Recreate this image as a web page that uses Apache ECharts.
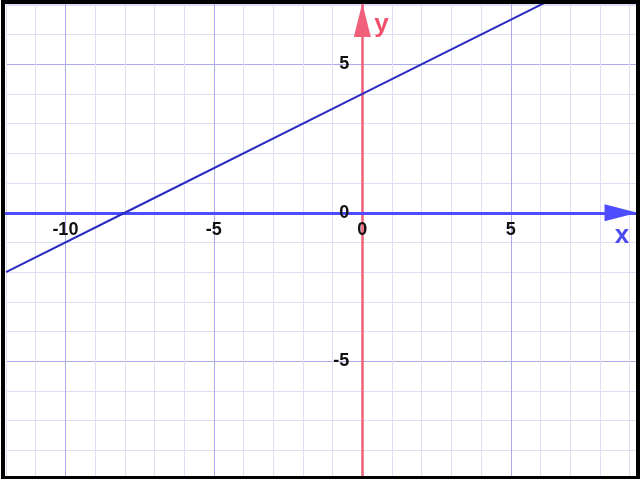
<!DOCTYPE html>
<html>
<head>
<meta charset="utf-8">
<script src="https://cdn.jsdelivr.net/npm/echarts@6/dist/echarts.min.js"></script>
<style>
  html, body { margin: 0; padding: 0; background: #fff; }
  #main { width: 640px; height: 479px; }
</style>
</head>
<body>
<div id="main"></div>
<script>
  // axis ranges
  var xMin = -12, xMax = 9.25;
  var yMin = -9, yMax = 7.03;
  // labelled ticks
  var xLabels = [-10, -5, 0, 5];
  var yLabels = [-5, 0, 5];
  // points of the line y = x/2 + 4
  var lineX = [-12, -8, 0, 6.5];
  var lineY = [-2, 0, 4, 7.25];

  var minor = '#dedef4';
  var major = '#acacea';

  var W = 640, H = 479;
  var gl = 6, gr = 3, gt = 4, gb = -1;
  // the axes sit on the zero lines: shift them in from the grid edge
  var xUnit = (W - gl - gr) / (xMax - xMin);
  var yUnit = (H - gt - gb) / (yMax - yMin);
  var xAxisOffset = -(0 - yMin) * yUnit;
  var yAxisOffset = -(0 - xMin) * xUnit;

  var chart = echarts.init(document.getElementById('main'));

  var labelStyle = {
    color: '#111',
    fontSize: 18,
    fontWeight: 'bold',
    fontFamily: 'Liberation Sans'
  };

  var option = {
    backgroundColor: '#fff',
    animation: false,
    grid: { left: gl, right: gr, top: gt, bottom: gb, containLabel: false, outerBoundsMode: 'none' },
    graphic: [
      {
        type: 'rect',
        z: 100,
        shape: { x: 3, y: 2, width: 635, height: 476 },
        style: { fill: 'none', stroke: '#000', lineWidth: 4 }
      }
    ],
    xAxis: {
      type: 'value',
      position: 'bottom',
      offset: xAxisOffset,
      min: xMin,
      max: xMax,
      interval: 1,
      name: 'x',
      nameLocation: 'end',
      nameGap: -15,
      nameTextStyle: {
        color: '#4b4bf0', fontSize: 26, fontWeight: 'bold', fontFamily: 'Liberation Sans',
        align: 'center', verticalAlign: 'top', padding: [10, 0, 0, 0]
      },
      axisLine: {
        onZero: false,
        symbol: ['none', 'triangle'],
        symbolSize: [17, 33],
        symbolOffset: [0, -16],
        lineStyle: { color: '#4d4dff', width: 3 }
      },
      axisTick: { show: false },
      axisLabel: Object.assign({
        margin: 8,
        formatter: function (v) { return xLabels.indexOf(v) >= 0 ? String(v) : ''; }
      }, labelStyle),
      splitLine: { lineStyle: { color: [minor, minor, major, minor, minor], width: 1 } }
    },
    yAxis: {
      type: 'value',
      position: 'left',
      offset: yAxisOffset,
      min: yMin,
      max: yMax,
      interval: 1,
      name: 'y',
      nameLocation: 'end',
      nameGap: -21,
      nameTextStyle: {
        color: '#f0506a', fontSize: 26, fontWeight: 'bold', fontFamily: 'Liberation Sans',
        align: 'left', verticalAlign: 'middle', padding: [0, 0, 0, 12]
      },
      axisLine: {
        onZero: false,
        symbol: ['none', 'triangle'],
        symbolSize: [17, 34],
        symbolOffset: [0, -16],
        lineStyle: { color: '#f0607a', width: 2.5 }
      },
      axisTick: { show: false },
      axisLabel: Object.assign({
        margin: 13,
        formatter: function (v) { return yLabels.indexOf(v) >= 0 ? String(v) : ''; }
      }, labelStyle),
      splitLine: { lineStyle: { color: [minor, minor, minor, minor, major], width: 1 } }
    },
    series: [
      {
        type: 'line',
        data: lineX.map(function (x, i) { return [x, lineY[i]]; }),
        showSymbol: false,
        clip: true,
        lineStyle: { color: '#2a2ac0', width: 2 }
      }
    ]
  };

  chart.setOption(option);
</script>
</body>
</html>
